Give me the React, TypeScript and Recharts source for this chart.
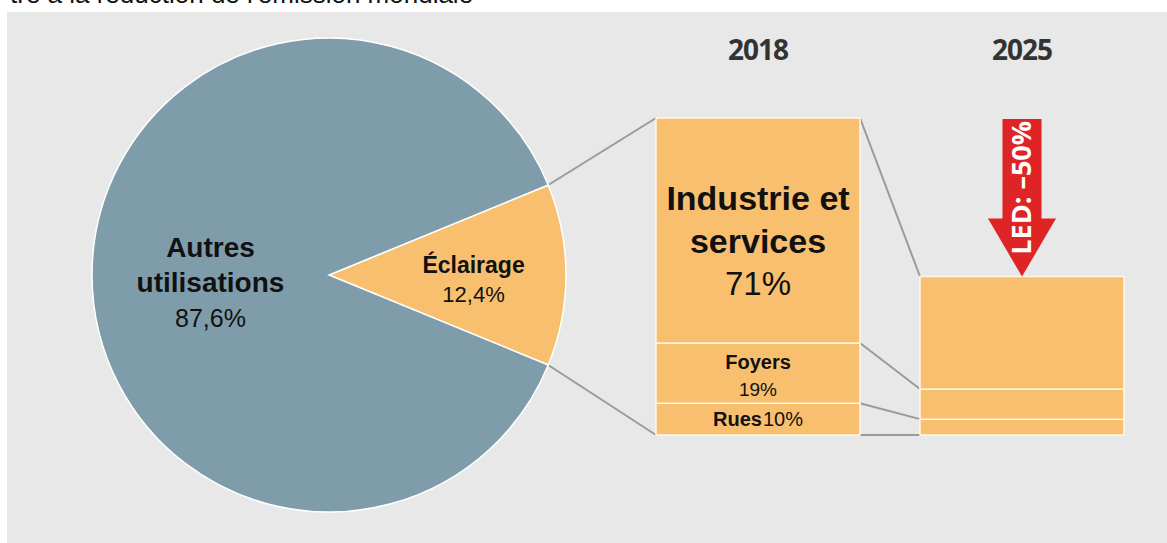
import React from "react";
import { PieChart, Pie, Cell, BarChart, Bar, XAxis, YAxis, LabelList } from "recharts";

// data
const pieNames = ["Éclairage", "Autres utilisations"];
const pieValues = [12.4, 87.6];
const pieColors = ["#f8bf6f", "#7f9caa"];

const years = ["2018", "2025"];
const rues = [10, 5];
const foyers = [19, 9.5];
const industrie = [71, 35.5];
const segmentLines = {
  industrie: ["Industrie et", "services"],
  foyers: ["Foyers"],
  rues: ["Rues"],
};

const title = "tre à la réduction de l'émission mondiale";

// layout
const W = 1167;
const H = 543;
const FONT = "'Liberation Sans', Arial, sans-serif";
const PIE_CX = 329;
const PIE_CY = 275;
const PIE_R = 237;
const PLOT_LEFT = 626;
const PLOT_RIGHT = 1154;
const PLOT_TOP = 118;
const PLOT_BOTTOM = 435;
const AXIS_H = 88;
const BAR_W = 204;
const ORANGE = "#f8bf6f";
const LINE = "#9a9a9a";

const pieData = pieNames.map((name, i) => ({ name, value: pieValues[i] }));
const barData = years.map((year, i) => ({
  year,
  rues: rues[i],
  foyers: foyers[i],
  industrie: industrie[i],
}));

const total = (i: number) => rues[i] + foyers[i] + industrie[i];
const reduction = Math.round((1 - total(1) / total(0)) * 100);

const yPix = (v: number) => PLOT_TOP + (1 - v / 100) * (PLOT_BOTTOM - PLOT_TOP);
const band = (PLOT_RIGHT - PLOT_LEFT) / years.length;
const barX = (i: number) => PLOT_LEFT + i * band + (band - BAR_W) / 2;

const fmt = (v: number) => v.toFixed(1).replace(".", ",") + "%";

const pieLabelStyle: Record<string, { f: number; nameSize: number; valSize: number; first: number; step: number }> = {
  "Éclairage": { f: 0.61, nameSize: 23, valSize: 22, first: -2, step: 29 },
  "Autres utilisations": { f: 0.5, nameSize: 28, valSize: 25, first: -18, step: 35 },
};

const RAD = Math.PI / 180;

const renderPieLabel = (props: any) => {
  const { cx, cy, midAngle, outerRadius, index } = props;
  const name = pieNames[index];
  const s = pieLabelStyle[name];
  const a = -midAngle * RAD;
  const x = cx + outerRadius * s.f * Math.cos(a);
  const y = cy + outerRadius * s.f * Math.sin(a);
  const lines = name.split(" ");
  return (
    <g>
      {lines.map((l, k) => (
        <text key={k} x={x} y={y + s.first + k * s.step} textAnchor="middle" fontFamily={FONT}
          fontWeight="bold" fontSize={s.nameSize} fill="#111">
          {l}
        </text>
      ))}
      <text x={x} y={y + s.first + lines.length * s.step} textAnchor="middle" fontFamily={FONT}
        fontSize={s.valSize} fill="#111">
        {fmt(pieValues[index])}
      </text>
    </g>
  );
};

const rect = (props: any) => {
  const vb = props.viewBox || props;
  return { x: Number(vb.x), y: Number(vb.y), width: Number(vb.width), height: Number(vb.height) };
};

const IndustrieLabel = (props: any) => {
  const { index } = props;
  const { x, y, width } = rect(props);
  const cx = x + width / 2;
  if (index === 0) {
    return (
      <g fontFamily={FONT} fill="#111">
        {segmentLines.industrie.map((l, k) => (
          <text key={k} x={cx} y={y + 92 + k * 43} textAnchor="middle" fontWeight="bold" fontSize={34}>
            {l}
          </text>
        ))}
        <text x={cx} y={y + 177} textAnchor="middle" fontSize={33}>
          {industrie[0]}%
        </text>
      </g>
    );
  }
  // LED arrow pointing at the 2025 bar top
  const top = PLOT_TOP + 1;
  const tipY = y;
  const headH = 58;
  const sh = 19.5;
  const hh = 34;
  const pts = [
    [cx - sh, top], [cx + sh, top], [cx + sh, tipY - headH], [cx + hh, tipY - headH],
    [cx, tipY], [cx - hh, tipY - headH], [cx - sh, tipY - headH],
  ].map((p) => p.join(",")).join(" ");
  const ty = (top + tipY - 20) / 2;
  return (
    <g>
      <polygon points={pts} fill="#de2424" />
      <text x={cx} y={ty + 9} textAnchor="middle" fontFamily="'Open Sans', sans-serif" fontWeight="bold"
        fontSize={27} fill="#fff" transform={`rotate(-90, ${cx}, ${ty})`}>
        {`LED: –${reduction}%`}
      </text>
    </g>
  );
};

const FoyersLabel = (props: any) => {
  if (props.index !== 0) return null;
  const { x, y, width, height } = rect(props);
  const cx = x + width / 2;
  const cy = y + height / 2;
  return (
    <g fontFamily={FONT} fill="#111">
      <text x={cx} y={cy - 4} textAnchor="middle" fontWeight="bold" fontSize={20}>{segmentLines.foyers[0]}</text>
      <text x={cx} y={cy + 23} textAnchor="middle" fontSize={19}>{foyers[0]}%</text>
    </g>
  );
};

const RuesLabel = (props: any) => {
  if (props.index !== 0) return null;
  const { x, y, width, height } = rect(props);
  return (
    <text x={x + width / 2} y={y + height / 2 + 7} textAnchor="middle" fontFamily={FONT} fill="#111">
      <tspan fontWeight="bold" fontSize={20}>{segmentLines.rues[0]}</tspan>
      <tspan dx={1} fontSize={20}>{rues[0]}%</tspan>
    </text>
  );
};

const YearTick = (props: any) => (
  <text x={props.x} y={60} textAnchor="middle" fontFamily="'Open Sans', sans-serif" fontWeight="bold"
    fontSize={28} letterSpacing={-1} fill="#333">
    {props.payload.value}
  </text>
);

const Connectors = () => {
  const th = (pieValues[0] / 100) * Math.PI;
  const ex = PIE_CX + PIE_R * Math.cos(th);
  const eyTop = PIE_CY - PIE_R * Math.sin(th);
  const eyBot = PIE_CY + PIE_R * Math.sin(th);
  const x0 = barX(0);
  const x0r = barX(0) + BAR_W;
  const x1 = barX(1);
  const cum = (i: number) => [total(i), rues[i] + foyers[i], rues[i], 0];
  const c0 = cum(0);
  const c1 = cum(1);
  return (
    <svg width={W} height={H} style={{ position: "absolute", left: 0, top: 0 }}>
      <text x={10} y={3} fontFamily={FONT} fontSize={26} fill="#111">{title}</text>
      <line x1={ex} y1={eyTop} x2={x0} y2={yPix(100)} stroke={LINE} strokeWidth={2} />
      <line x1={ex} y1={eyBot} x2={x0} y2={yPix(0)} stroke={LINE} strokeWidth={2} />
      {c0.map((v, k) => (
        <line key={k} x1={x0r} y1={yPix(v)} x2={x1} y2={yPix(c1[k])} stroke={LINE} strokeWidth={2} />
      ))}
    </svg>
  );
};

export default function App() {
  return (
    <div style={{ position: "absolute", left: 0, top: 0, width: W, height: H, overflow: "hidden", background: "#fff" }}>
      <div style={{ position: "absolute", left: 7, top: 12, width: W - 7, height: H - 12, background: "#e8e8e8" }} />
      <Connectors />
      <div style={{ position: "absolute", left: 0, top: 0 }}>
        <PieChart width={W} height={H} margin={{ top: 0, right: 0, bottom: 0, left: 0 }}>
          <Pie
            data={pieData}
            dataKey="value"
            nameKey="name"
            cx={PIE_CX}
            cy={PIE_CY}
            outerRadius={PIE_R}
            startAngle={-(pieValues[0] / 100) * 180}
            endAngle={360 - (pieValues[0] / 100) * 180}
            stroke="#ffffff"
            strokeWidth={1.5}
            label={renderPieLabel}
            labelLine={false}
            isAnimationActive={false}
          >
            {pieData.map((d, i) => (
              <Cell key={d.name} fill={pieColors[i]} />
            ))}
          </Pie>
        </PieChart>
      </div>
      <div style={{ position: "absolute", left: 0, top: 0 }}>
        <BarChart
          width={W}
          height={H}
          data={barData}
          margin={{ top: PLOT_TOP - AXIS_H, right: W - PLOT_RIGHT, bottom: H - PLOT_BOTTOM, left: PLOT_LEFT }}
          barSize={BAR_W}
        >
          <XAxis dataKey="year" orientation="top" height={AXIS_H} axisLine={false} tickLine={false} tick={<YearTick />} interval={0} />
          <YAxis type="number" domain={[0, 100]} hide />
          <Bar dataKey="rues" stackId="a" fill={ORANGE} stroke="#fff6e6" strokeWidth={1.5} isAnimationActive={false}>
            <LabelList content={<RuesLabel />} />
          </Bar>
          <Bar dataKey="foyers" stackId="a" fill={ORANGE} stroke="#fff6e6" strokeWidth={1.5} isAnimationActive={false}>
            <LabelList content={<FoyersLabel />} />
          </Bar>
          <Bar dataKey="industrie" stackId="a" fill={ORANGE} stroke="#fff6e6" strokeWidth={1.5} isAnimationActive={false}>
            <LabelList content={<IndustrieLabel />} />
          </Bar>
        </BarChart>
      </div>
    </div>
  );
}
